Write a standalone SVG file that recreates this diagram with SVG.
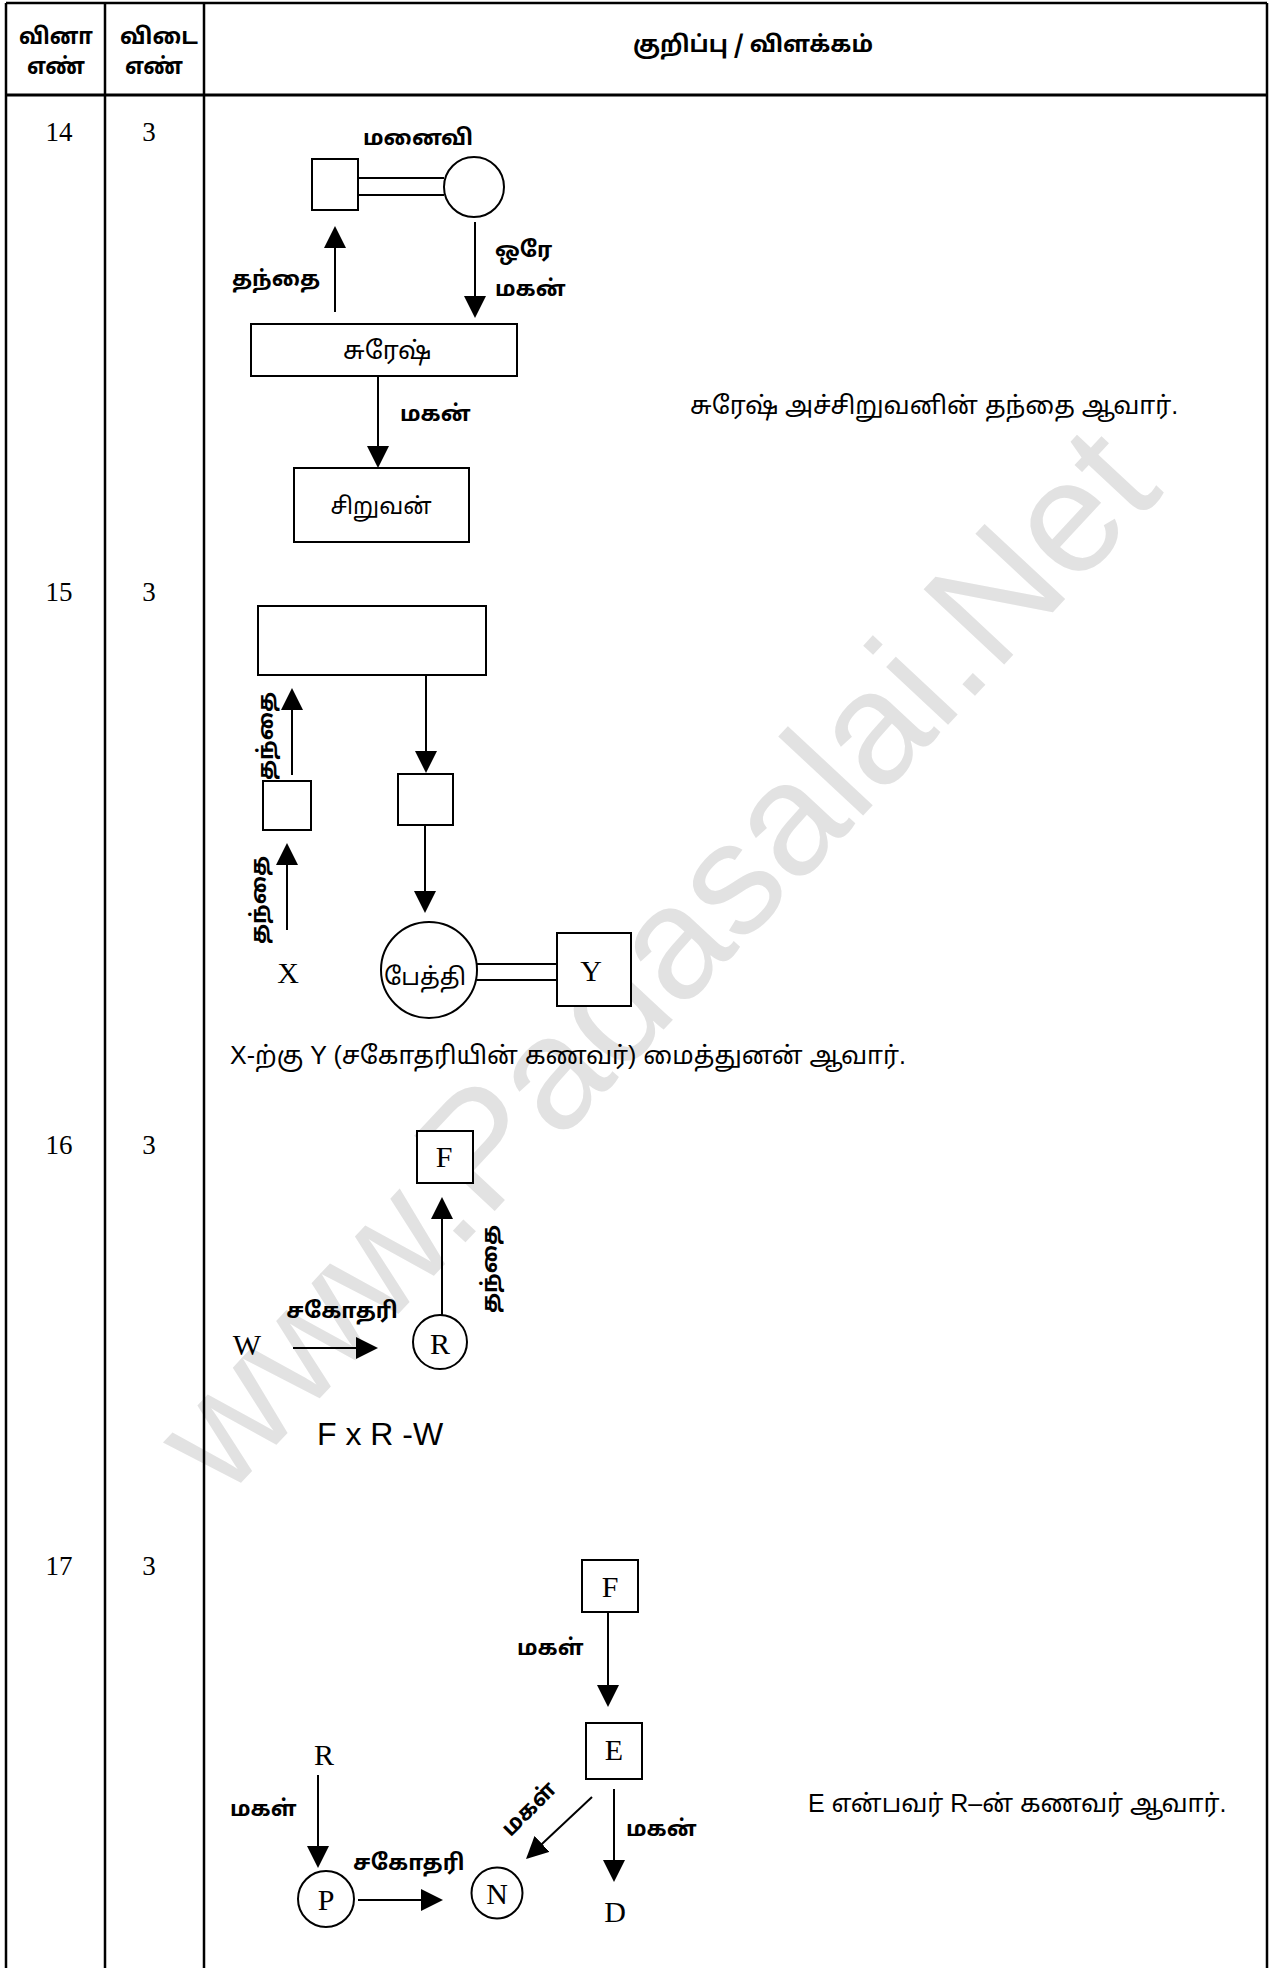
<svg xmlns="http://www.w3.org/2000/svg" width="1282" height="1968" viewBox="0 0 1282 1968">
<style>
.tbl{stroke:#000;stroke-width:2.5;fill:none}
.box{fill:#fff;stroke:#000;stroke-width:2}
.ln{stroke:#000;stroke-width:2;fill:none}
.arr{stroke:#000;stroke-width:2;fill:none;marker-end:url(#ah)}
.ta{font-family:"Noto Sans Tamil","Latha","Lohit Tamil","Noto Sans",sans-serif;font-size:22px;fill:#000}
.tb{font-weight:bold}
.hd{font-family:"Noto Sans Tamil","Latha","Lohit Tamil","Noto Sans",sans-serif;font-size:23px;font-weight:bold;fill:#000}
.sen{font-family:"Liberation Sans","Noto Sans Tamil","Latha",sans-serif;font-size:25px;fill:#000}
.lt{font-family:"Liberation Serif","Times New Roman",serif;font-size:30px;fill:#000}
.num{font-family:"Liberation Serif","Times New Roman",serif;font-size:27px;fill:#000}
.wm{font-family:"Liberation Sans",Arial,sans-serif;font-size:160px;fill:#e2e2e2}
</style>
<defs>
<marker id="ah" viewBox="0 0 22 22" refX="20" refY="11" markerWidth="22" markerHeight="22" markerUnits="userSpaceOnUse" orient="auto">
<path d="M0,0 L22,11 L0,22 z" fill="#000"/>
</marker>
</defs>
<rect x="0" y="0" width="1282" height="1968" fill="#fff"/>
<text class="wm" transform="translate(225,1500) rotate(-47)">www.Padasalai.Net</text>

<g id="table">
<line class="tbl" x1="6" y1="3" x2="1267" y2="3"/>
<line class="tbl" x1="6" y1="3" x2="6" y2="1968"/>
<line class="tbl" x1="105" y1="3" x2="105" y2="1968"/>
<line class="tbl" x1="204" y1="3" x2="204" y2="1968"/>
<line class="tbl" x1="1267" y1="3" x2="1267" y2="1968"/>
<line class="tbl" x1="6" y1="95" x2="1267" y2="95" style="stroke-width:3"/>
<text class="hd" x="56" y="44" text-anchor="middle" textLength="74" lengthAdjust="spacingAndGlyphs">வினா</text>
<text class="hd" x="56" y="74" text-anchor="middle" textLength="58" lengthAdjust="spacingAndGlyphs">எண்</text>
<text class="hd" x="159" y="44" text-anchor="middle" textLength="78" lengthAdjust="spacingAndGlyphs">விடை</text>
<text class="hd" x="154" y="74" text-anchor="middle" textLength="58" lengthAdjust="spacingAndGlyphs">எண்</text>
<text class="hd" x="753" y="52" text-anchor="middle" textLength="240" lengthAdjust="spacingAndGlyphs">குறிப்பு / விளக்கம்</text>
<text class="num" x="59" y="141" text-anchor="middle">14</text>
<text class="num" x="149" y="141" text-anchor="middle">3</text>
<text class="num" x="59" y="601" text-anchor="middle">15</text>
<text class="num" x="149" y="601" text-anchor="middle">3</text>
<text class="num" x="59" y="1154" text-anchor="middle">16</text>
<text class="num" x="149" y="1154" text-anchor="middle">3</text>
<text class="num" x="59" y="1575" text-anchor="middle">17</text>
<text class="num" x="149" y="1575" text-anchor="middle">3</text>
</g>

<!-- Q14 -->
<g id="q14-husband"><rect class="box" x="312" y="159" width="46" height="51"/></g>
<g id="q14-wife"><circle class="box" cx="474" cy="187" r="30"/></g>
<g id="q14-suresh"><rect class="box" x="251" y="324" width="266" height="52"/><text class="ta" x="387" y="359" text-anchor="middle" style="font-size:25px">சுரேஷ்</text></g>
<g id="q14-boy"><rect class="box" x="294" y="468" width="175" height="74"/><text class="ta" x="381" y="514" text-anchor="middle" style="font-size:23px">சிறுவன்</text></g>
<g id="q14-labels">
<text class="ta tb" x="418" y="145" text-anchor="middle">மனைவி</text>
<text class="ta tb" x="276" y="286" text-anchor="middle">தந்தை</text>
<text class="ta tb" x="495" y="257">ஒரே</text>
<text class="ta tb" x="495" y="296">மகன்</text>
<text class="ta tb" x="400" y="421">மகன்</text>
<text class="sen" x="690" y="414">சுரேஷ் அச்சிறுவனின் தந்தை ஆவார்.</text>
</g>

<!-- Q15 -->
<g id="q15-top"><rect class="box" x="258" y="606" width="228" height="69"/></g>
<g id="q15-mid"><rect class="box" x="398" y="774" width="55" height="51"/></g>
<g id="q15-left"><rect class="box" x="263" y="781" width="48" height="49"/></g>
<g id="q15-grand"><circle class="box" cx="429" cy="970" r="48"/><text class="ta" x="425" y="985" text-anchor="middle" style="font-size:24px">பேத்தி</text></g>
<g id="q15-y"><rect class="box" x="557" y="933" width="74" height="73"/><text class="lt" x="591" y="981" text-anchor="middle">Y</text></g>
<g id="q15-x"><text class="lt" x="288" y="983" text-anchor="middle">X</text></g>
<g id="q15-labels">
<text class="ta tb" transform="translate(273,736) rotate(-90)" text-anchor="middle">தந்தை</text>
<text class="ta tb" transform="translate(266,900) rotate(-90)" text-anchor="middle">தந்தை</text>
<text class="sen" x="230" y="1064">X-ற்கு Y (சகோதரியின் கணவர்) மைத்துனன் ஆவார்.</text>
</g>

<!-- Q16 -->
<g id="q16-f"><rect class="box" x="417" y="1131" width="56" height="52"/><text class="lt" x="444" y="1167" text-anchor="middle">F</text></g>
<g id="q16-r"><circle class="box" cx="440" cy="1342" r="27"/><text class="lt" x="440" y="1354" text-anchor="middle">R</text></g>
<g id="q16-w"><text class="lt" x="247" y="1355" text-anchor="middle">W</text></g>
<g id="q16-labels">
<text class="ta tb" transform="translate(497,1269) rotate(-90)" text-anchor="middle">தந்தை</text>
<text class="ta tb" x="342" y="1318" text-anchor="middle">சகோதரி</text>
<text class="sen" x="317" y="1445" style="font-size:32px">F x R -W</text>
</g>

<!-- Q17 -->
<g id="q17-f"><rect class="box" x="582" y="1560" width="56" height="52"/><text class="lt" x="610" y="1597" text-anchor="middle">F</text></g>
<g id="q17-e"><rect class="box" x="586" y="1723" width="56" height="56"/><text class="lt" x="614" y="1760" text-anchor="middle">E</text></g>
<g id="q17-r"><text class="lt" x="324" y="1765" text-anchor="middle">R</text></g>
<g id="q17-p"><circle class="box" cx="326" cy="1899" r="28"/><text class="lt" x="326" y="1910" text-anchor="middle">P</text></g>
<g id="q17-n"><circle class="box" cx="497" cy="1893" r="25.5"/><text class="lt" x="497" y="1904" text-anchor="middle">N</text></g>
<g id="q17-d"><text class="lt" x="615" y="1922" text-anchor="middle">D</text></g>
<g id="q17-labels">
<text class="ta tb" x="517" y="1655">மகள்</text>
<text class="ta tb" x="230" y="1816">மகள்</text>
<text class="ta tb" x="353" y="1870">சகோதரி</text>
<text class="ta tb" transform="translate(534,1814) rotate(-45)" text-anchor="middle">மகள்</text>
<text class="ta tb" x="626" y="1836">மகன்</text>
<text class="sen" x="808" y="1812">E என்பவர் R–ன் கணவர் ஆவார்.</text>
</g>

<g id="connectors">
<line class="ln" x1="358" y1="178" x2="444" y2="178"/>
<line class="ln" x1="358" y1="195" x2="444" y2="195"/>
<line class="arr" x1="335" y1="312" x2="335" y2="228"/>
<line class="arr" x1="475" y1="222" x2="475" y2="316"/>
<line class="arr" x1="378" y1="376" x2="378" y2="466"/>

<line class="arr" x1="426" y1="676" x2="426" y2="771"/>
<line class="arr" x1="425" y1="825" x2="425" y2="911"/>
<line class="arr" x1="292" y1="775" x2="292" y2="690"/>
<line class="arr" x1="287" y1="930" x2="287" y2="845"/>
<line class="ln" x1="477" y1="964" x2="557" y2="964"/>
<line class="ln" x1="477" y1="980" x2="557" y2="980"/>

<line class="arr" x1="442" y1="1315" x2="442" y2="1199"/>
<line class="arr" x1="293" y1="1348" x2="376" y2="1348"/>

<line class="arr" x1="608" y1="1613" x2="608" y2="1705"/>
<line class="arr" x1="318" y1="1775" x2="318" y2="1866"/>
<line class="arr" x1="358" y1="1900" x2="441" y2="1900"/>
<line class="arr" x1="592" y1="1797" x2="527.5" y2="1857.6"/>
<line class="arr" x1="614" y1="1789" x2="614" y2="1880"/>
</g>
</svg>
